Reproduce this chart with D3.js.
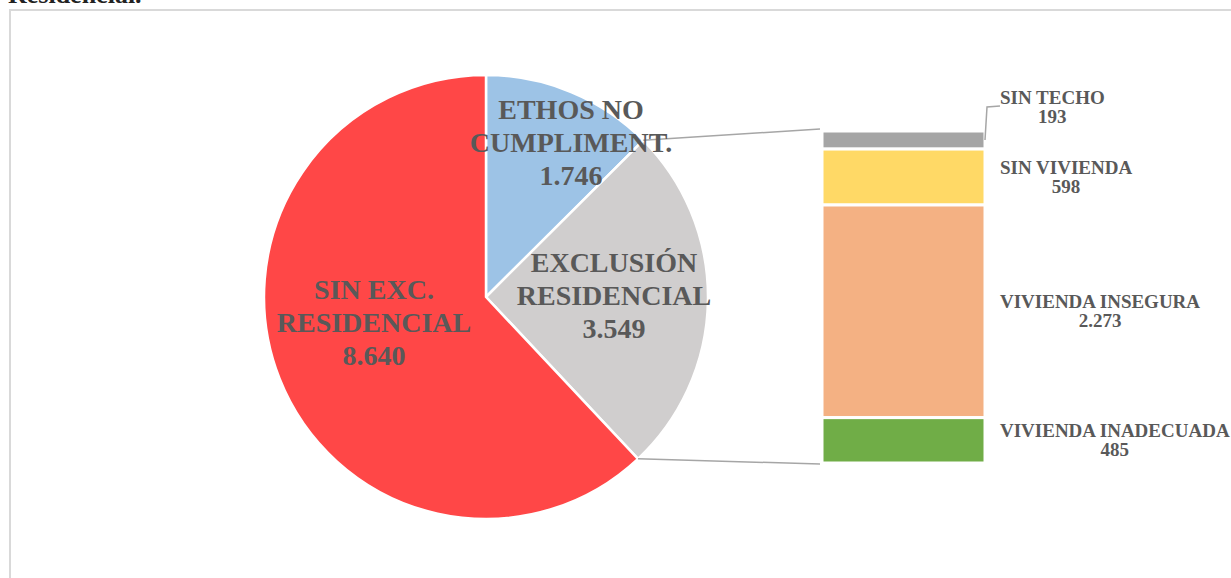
<!DOCTYPE html>
<html><head><meta charset="utf-8">
<script src="https://cdn.jsdelivr.net/npm/d3@7"></script>
<style>
html,body{margin:0;padding:0;background:#fff;}
svg{display:block;}
text{font-family:"Liberation Serif","Times New Roman",serif;font-weight:bold;}
</style></head><body>
<svg id="c" width="1231" height="578"></svg>
<script>
// ---- data ----
const pieLabels = [["ETHOS NO","CUMPLIMENT."],["EXCLUSIÓN","RESIDENCIAL"],["SIN EXC.","RESIDENCIAL"]];
const pieValues = [1746, 3549, 8640];
const pieValueText = ["1.746","3.549","8.640"];
const pieColors = ["#9DC3E6","#D0CECE","#FF4747"];

const barLabels = ["SIN TECHO","SIN VIVIENDA","VIVIENDA INSEGURA","VIVIENDA INADECUADA"];
const barValues = [193, 598, 2273, 485];
const barValueText = ["193","598","2.273","485"];
const barColors = ["#A5A5A5","#FFD966","#F4B183","#70AD47"];

const svg = d3.select("#c");
const txtColor = "#595959";

// cut-off title at top (only its lower edge is visible in the reference)
svg.append("text").attr("x", 8).attr("y", 3).attr("font-size", 26).attr("fill", "#222").text("Residencial.");

// frame
svg.append("rect").attr("x", 10).attr("y", 10).attr("width", 1230).attr("height", 600)
  .attr("fill", "none").attr("stroke", "#D9D9D9").attr("stroke-width", 2);

// ---- pie ----
const cx = 486, cy = 297, R = 222;
const pie = d3.pie().sort(null).value(d => d)(pieValues);
const arc = d3.arc().innerRadius(0).outerRadius(R);
const g = svg.append("g").attr("transform", `translate(${cx},${cy})`);
g.selectAll("path").data(pie).join("path")
  .attr("d", arc).attr("fill", (d, i) => pieColors[i])
  .attr("stroke", "#fff").attr("stroke-width", 2.5).attr("stroke-linejoin", "round");

// ---- bar ----
const barX0 = 822, barX1 = 985, barTop = 131, barBot = 463;
const total = d3.sum(barValues);
const y = d3.scaleLinear().domain([0, total]).range([barTop, barBot]);
let cum = 0;
const segs = barValues.map((v, i) => { const s = {i, v, y0: cum, y1: cum + v}; cum += v; return s; });
svg.selectAll("rect.seg").data(segs).join("rect").attr("class", "seg")
  .attr("x", barX0).attr("width", barX1 - barX0)
  .attr("y", d => y(d.y0)).attr("height", d => y(d.y1) - y(d.y0))
  .attr("fill", d => barColors[d.i]).attr("stroke", "#fff").attr("stroke-width", 3);

// connector lines
const excl = pie[1];
const pTop = [cx + R * Math.sin(excl.startAngle), cy - R * Math.cos(excl.startAngle)];
const pBot = [cx + R * Math.sin(excl.endAngle), cy - R * Math.cos(excl.endAngle)];
svg.append("line").attr("x1", pTop[0]).attr("y1", pTop[1]).attr("x2", barX0 - 2).attr("y2", y(0) - 2)
  .attr("stroke", "#A6A6A6").attr("stroke-width", 1.5);
svg.append("line").attr("x1", pBot[0]).attr("y1", pBot[1]).attr("x2", barX0 - 2).attr("y2", y(total) + 1)
  .attr("stroke", "#A6A6A6").attr("stroke-width", 1.5);

// pie labels
const labelPos = [[571, 110], [614, 263], [374, 290]];
pie.forEach((d, i) => {
  const t = svg.append("text").attr("text-anchor", "middle").attr("font-size", 28).attr("fill", txtColor);
  const lines = pieLabels[i].concat([pieValueText[i]]);
  lines.forEach((l, k) => t.append("tspan").attr("x", labelPos[i][0]).attr("y", labelPos[i][1] + 9 + k * 33).text(l));
});
// bar labels
const labLeft = 1000;
segs.forEach(s => {
  let yc = (y(s.y0) + y(s.y1)) / 2;
  if (s.i === 0) yc = 107;
  const t = svg.append("text").attr("text-anchor", "middle").attr("font-size", 19).attr("fill", txtColor);
  const a = t.append("tspan").attr("y", yc - 3).text(barLabels[s.i]);
  const b = t.append("tspan").attr("y", yc + 16).text(barValueText[s.i]);
  const w = Math.max(a.node().getComputedTextLength(), b.node().getComputedTextLength());
  a.attr("x", labLeft + w / 2); b.attr("x", labLeft + w / 2);
});
// leader for SIN TECHO
const s0 = segs[0];
svg.append("path")
  .attr("d", `M${barX1},${(y(s0.y0) + y(s0.y1)) / 2} L${barX1 + 2},107 L${labLeft},106`)
  .attr("fill", "none").attr("stroke", "#A6A6A6").attr("stroke-width", 1.5);
</script>
</body></html>
